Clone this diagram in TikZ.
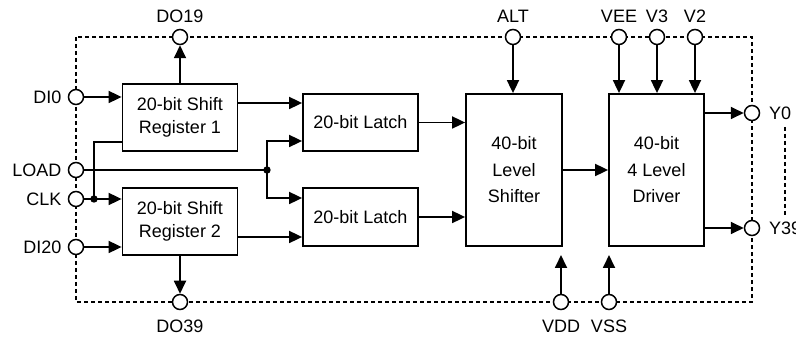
\documentclass[tikz,border=0pt]{standalone}
\usepackage{fontspec}
\setmainfont{Liberation Sans}
\usetikzlibrary{arrows.meta}

\begin{document}
\begin{tikzpicture}[x=1pt, y=-1pt, line width=1.8pt,
  font=\fontsize{18}{23}\selectfont,
  >={Triangle[length=13pt, width=12pt]},
  bloc/.style={draw, rectangle, inner sep=0pt, align=center},
  haut/.style={font=\fontsize{18}{26.5}\selectfont},
  broche/.style={draw, circle, fill=white, minimum size=15pt, inner sep=0pt, line width=1.5pt},
  lbl/.style={inner sep=0pt},
  cadre/.style={line width=1.1pt, dash pattern=on 4pt off 3pt}]

  \useasboundingbox (0,0) rectangle (796,339);

  % Cadre en pointilles
  \draw[cadre] (76,37) rectangle (752,302);
  \draw[cadre] (785,127) -- (785,215);

  % Blocs
  \node[bloc, minimum width=115pt, minimum height=67pt] (sr1) at (180,117.5) {20-bit Shift\\Register 1};
  \node[bloc, minimum width=115pt, minimum height=67pt] (sr2) at (180,221.5) {20-bit Shift\\Register 2};
  \node[bloc, minimum width=115pt, minimum height=57pt] (latch1) at (360.5,122.5) {20-bit Latch};
  \node[bloc, minimum width=115pt, minimum height=58pt] (latch2) at (360.5,217) {20-bit Latch};
  \node[bloc, haut, minimum width=96pt, minimum height=152pt] (ls) at (514,170) {40-bit\\Level\\Shifter};
  \node[bloc, haut, minimum width=95pt, minimum height=152pt] (drv) at (656.5,170) {40-bit\\4 Level\\Driver};

  % Broches
  \foreach \nom/\px/\py/\cote/\txt/\dist in {
      do19/180/37/above/DO19/5, di0/76/97/left/DI0/5.5,
      load/76/170/left/LOAD/5.5, clk/76/199/left/CLK/5.5,
      di20/76/247/left/DI20/5.5, do39/180/302/below/DO39/8.5,
      alt/513/37/above/ALT/5, vee/619/37/above/VEE/5,
      v3/657/37/above/V3/5, v2/695/37/above/V2/5,
      y0/752/113/right/Y0/8, y39/752/228/right/Y39/8,
      vdd/561/302/below/VDD/8.5, vss/609/302/below/VSS/8.5} {
    \node[broche, label={[lbl, label distance=\dist pt]\cote:\txt}] (\nom) at (\px,\py) {};
  }

  % Registres a decalage
  \draw[->] (di0) -- (di0 -| sr1.west);
  \draw[->] (sr1.north) -- (do19);
  \draw[->] (di20) -- (di20 -| sr2.west);
  \draw[->] (sr2.south) -- (do39);
  \draw[->] (clk) -- (clk -| sr2.west);
  \fill (94,199) coordinate (nclk) circle (3.7);
  \draw (nclk) |- (sr1.west |- 0,142);

  % Verrous
  \draw[->] (sr1.east |- 0,103) -- (latch1.west |- 0,103);
  \draw[->] (sr2.east |- 0,237) -- (latch2.west |- 0,237);
  \draw (load) -- (267,170) coordinate (nload);
  \fill (nload) circle (3.7);
  \draw[->] (nload) |- (latch1.west |- 0,141);
  \draw[->] (nload) |- (latch2.west |- 0,198);

  % Decaleur et driver
  \draw[->] (latch1) -- (latch1 -| ls.west);
  \draw[->] (latch2) -- (latch2 -| ls.west);
  \draw[->] (alt) -- (alt |- ls.north);
  \draw[->] (ls) -- (drv);
  \foreach \p in {vee, v3, v2}
    \draw[->] (\p) -- (\p |- drv.north);
  \draw[->] (drv.east |- y0) -- (y0);
  \draw[->] (drv.east |- y39) -- (y39);
  \draw[->] (vdd) -- (vdd |- 0,255);
  \draw[->] (vss) -- (vss |- 0,255);

\end{tikzpicture}
\end{document}
